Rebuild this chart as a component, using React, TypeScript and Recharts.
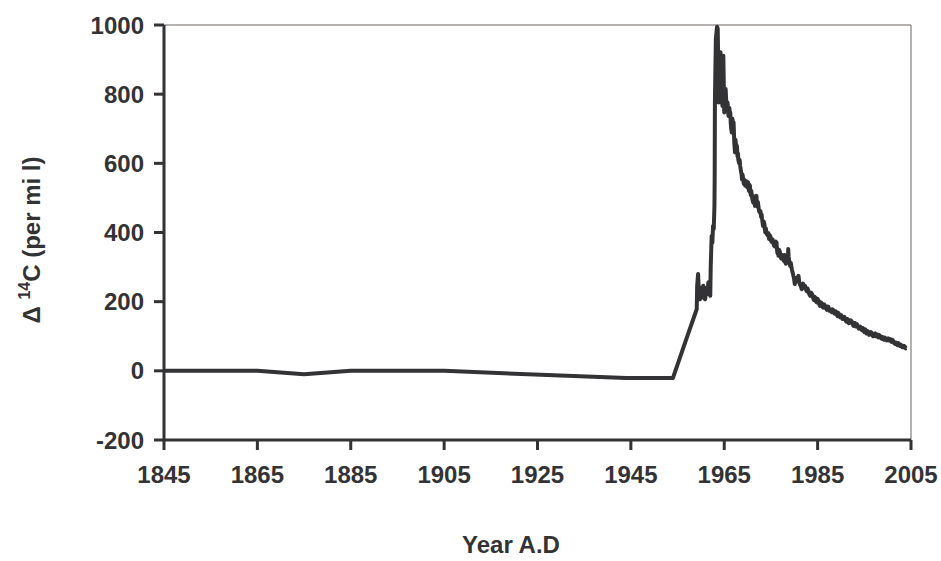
import React from "react";
import {
  LineChart,
  Line,
  XAxis,
  YAxis,
  ReferenceLine,
} from "recharts";

// Δ14C record
// pre-bomb baseline and bomb peak
const peakYears = [
  1845, 1865, 1875, 1885, 1905, 1944, 1954, 1957, 1959.1, 1959.2,
  1959.4, 1959.6, 1959.8, 1960.1, 1960.3, 1960.5, 1960.7, 1960.9, 1961.2, 1961.4,
  1961.6, 1961.8, 1962.0, 1962.1, 1962.3, 1962.45, 1962.6, 1962.75, 1962.9, 1962.95,
  1963.0, 1963.2, 1963.45, 1963.6, 1963.7, 1963.8, 1963.95, 1964.1, 1964.2, 1964.35,
  1964.5, 1964.6, 1964.8, 1964.9, 1965.0, 1965.15, 1965.3, 1965.5, 1965.7, 1965.9,
];
const peakValues = [
  0, 0, -10, 0, 0, -21, -21, 97, 178, 246,
  280, 215, 207, 240, 212, 246, 215, 207, 240, 222,
  256, 225, 217, 300, 390, 370, 419, 410, 477, 560,
  777, 959, 995, 990, 900, 776, 820, 800, 921, 860,
  800, 766, 911, 830, 747, 790, 815, 760, 776, 737,
];

// post-1966 decay (noisy)
const decayYears = [
  1966.1, 1966.2, 1966.3, 1966.4, 1966.5, 1966.6, 1966.7, 1966.8, 1966.9, 1967.0,
  1967.1, 1967.15, 1967.3, 1967.4, 1967.5, 1967.6, 1967.7, 1967.85, 1967.95, 1968.0,
  1968.1, 1968.2, 1968.3, 1968.4, 1968.5, 1968.6, 1968.7, 1968.8, 1968.9, 1969.0,
  1969.1, 1969.2, 1969.35, 1969.5, 1969.65, 1969.8, 1969.95, 1970.1, 1970.2, 1970.3,
  1970.4, 1970.5, 1970.6, 1970.7, 1970.8, 1970.9, 1971.05, 1971.2, 1971.3, 1971.4,
  1971.5, 1971.6, 1971.75, 1971.9, 1972.0, 1972.1, 1972.2, 1972.3, 1972.45, 1972.6,
  1972.75, 1972.9, 1973.0, 1973.1, 1973.2, 1973.3, 1973.45, 1973.6, 1973.7, 1973.8,
  1973.9, 1974.0, 1974.15, 1974.3, 1974.45, 1974.6, 1974.75, 1974.9, 1975.05, 1975.2,
  1975.35, 1975.5, 1975.65, 1975.8, 1975.9, 1976.0, 1976.1, 1976.2, 1976.3, 1976.4,
  1976.5, 1976.6, 1976.75, 1976.9, 1977.05, 1977.2, 1977.4, 1977.6, 1977.75, 1977.9,
  1978.05, 1978.2, 1978.35, 1978.5, 1978.6, 1978.7, 1978.8, 1978.9, 1979.0, 1979.1,
  1979.25, 1979.4, 1979.5, 1979.6, 1979.7, 1979.8, 1979.9, 1980.0, 1980.1, 1980.25,
  1980.4, 1980.5, 1980.6, 1980.75, 1980.9, 1981.05, 1981.2, 1981.4, 1981.6, 1981.75,
  1981.9, 1982.1, 1982.3, 1982.5, 1982.7, 1982.85, 1983.0, 1983.2, 1983.4, 1983.6,
  1983.8, 1984.0, 1984.2, 1984.35, 1984.5, 1984.65, 1984.8, 1985.0, 1985.2, 1985.35,
  1985.5, 1985.7, 1985.9, 1986.05, 1986.2, 1986.4, 1986.6, 1986.8, 1987.0, 1987.15,
  1987.3, 1987.5, 1987.7, 1987.85, 1988.0, 1988.2, 1988.4, 1988.55, 1988.7, 1988.9,
  1989.1, 1989.25, 1989.4, 1989.6, 1989.8, 1989.95, 1990.1, 1990.3, 1990.5, 1990.7,
  1990.9, 1991.05, 1991.2, 1991.35, 1991.5, 1991.7, 1991.9, 1992.1, 1992.3, 1992.5,
  1992.7, 1992.85, 1993.0, 1993.2, 1993.4, 1993.6, 1993.8, 1993.95, 1994.1, 1994.3,
  1994.5, 1994.65, 1994.8, 1995.0, 1995.2, 1995.35, 1995.5, 1995.7, 1995.9, 1996.05,
  1996.2, 1996.4, 1996.6, 1996.75, 1996.9, 1997.1, 1997.3, 1997.45, 1997.6, 1997.8,
  1998.0, 1998.15, 1998.3, 1998.5, 1998.7, 1998.85, 1999.0, 1999.2, 1999.4, 1999.6,
  1999.8, 1999.95, 2000.1, 2000.3, 2000.5, 2000.65, 2000.8, 2001.0, 2001.2, 2001.4,
  2001.6, 2001.75, 2001.9, 2002.1, 2002.3, 2002.45, 2002.6, 2002.8, 2003.0, 2003.15,
  2003.3, 2003.5, 2003.7, 2003.85, 2004.0,
];
const decayValues = [
  760, 735, 747, 715, 700, 689, 730, 725, 700, 718,
  680, 660, 632, 668, 655, 630, 651, 620, 628, 612,
  605, 600, 610, 593, 585, 575, 570, 554, 568, 560,
  550, 540, 552, 535, 545, 548, 530, 545, 528, 520,
  538, 535, 515, 508, 520, 506, 495, 487, 505, 500,
  482, 477, 500, 506, 480, 475, 488, 478, 462, 458,
  462, 445, 452, 440, 430, 419, 432, 425, 408, 400,
  412, 405, 395, 392, 398, 381, 392, 388, 375, 372,
  380, 371, 362, 360, 372, 374, 360, 371, 350, 340,
  345, 333, 350, 345, 330, 325, 335, 323, 318, 335,
  315, 310, 322, 330, 315, 352, 330, 320, 310, 304,
  312, 300, 292, 286, 282, 275, 270, 262, 251, 262,
  268, 258, 262, 270, 275, 258, 250, 245, 236, 248,
  252, 240, 246, 235, 230, 238, 232, 222, 217, 226,
  222, 212, 205, 214, 212, 200, 198, 208, 203, 192,
  188, 198, 195, 185, 183, 192, 188, 180, 176, 186,
  185, 174, 178, 172, 170, 178, 175, 166, 165, 172,
  164, 158, 168, 160, 155, 162, 160, 150, 150, 156,
  152, 144, 142, 150, 148, 138, 140, 146, 143, 134,
  130, 138, 138, 128, 135, 130, 122, 127, 128, 120,
  118, 124, 116, 112, 120, 112, 108, 115, 112, 104,
  106, 112, 110, 102, 100, 106, 108, 100, 106, 100,
  97, 104, 102, 95, 93, 98, 92, 90, 96, 92,
  88, 92, 94, 88, 92, 86, 84, 90, 86, 80,
  78, 82, 77, 74, 80, 74, 72, 76, 73, 68,
  68, 72, 70, 65, 66,
];

const xTicks = [1845, 1865, 1885, 1905, 1925, 1945, 1965, 1985, 2005];
const yTicks = [-200, 0, 200, 400, 600, 800, 1000];

const years = [...peakYears, ...decayYears];
const values = [...peakValues, ...decayValues];
const data = years.map((year, i) => ({ year, value: values[i] }));

const FONT = "'Liberation Sans', Arial, Helvetica, sans-serif";
const INK = "#333336";

const tickStyle = {
  fill: INK,
  fontSize: 24,
  fontWeight: "bold",
  fontFamily: FONT,
};

export default function App() {
  return (
    <div style={{ position: "absolute", left: 0, top: 0, background: "#fff" }}>
      <LineChart
        width={941}
        height={561}
        data={data}
        margin={{ top: 25, right: 30, bottom: 0, left: 0 }}
      >
        <ReferenceLine y={1000} stroke="#9c9794" strokeWidth={1.5} />
        <ReferenceLine x={2005} stroke="#9c9794" strokeWidth={1.5} />
        <XAxis
          dataKey="year"
          type="number"
          domain={[1845, 2005]}
          ticks={xTicks}
          interval={0}
          height={121}
          tickSize={10}
          tickMargin={16}
          axisLine={{ stroke: INK, strokeWidth: 3 }}
          tickLine={{ stroke: INK, strokeWidth: 3 }}
          tick={tickStyle}
          label={{
            content: () => (
              <text
                x={511}
                y={553}
                textAnchor="middle"
                fill={INK}
                fontSize={24}
                fontWeight="bold"
                fontFamily={FONT}
              >
                Year A.D
              </text>
            ),
          }}
        />
        <YAxis
          type="number"
          domain={[-200, 1000]}
          ticks={yTicks}
          interval={0}
          width={164}
          tickSize={10}
          tickMargin={10}
          axisLine={{ stroke: INK, strokeWidth: 3 }}
          tickLine={{ stroke: INK, strokeWidth: 3 }}
          tick={tickStyle}
          label={{
            content: () => (
              <text
                x={40}
                y={240}
                transform="rotate(-90 40 240)"
                textAnchor="middle"
                fill={INK}
                fontSize={24}
                fontWeight="bold"
                fontFamily={FONT}
              >
                <tspan>Δ </tspan>
                <tspan dy={-10} fontSize={16}>
                  14
                </tspan>
                <tspan dy={10}>C (per mi l)</tspan>
              </text>
            ),
          }}
        />
        <Line
          type="linear"
          dataKey="value"
          stroke={INK}
          strokeWidth={4}
          strokeLinejoin="round"
          dot={false}
          activeDot={false}
          isAnimationActive={false}
        />
      </LineChart>
    </div>
  );
}
